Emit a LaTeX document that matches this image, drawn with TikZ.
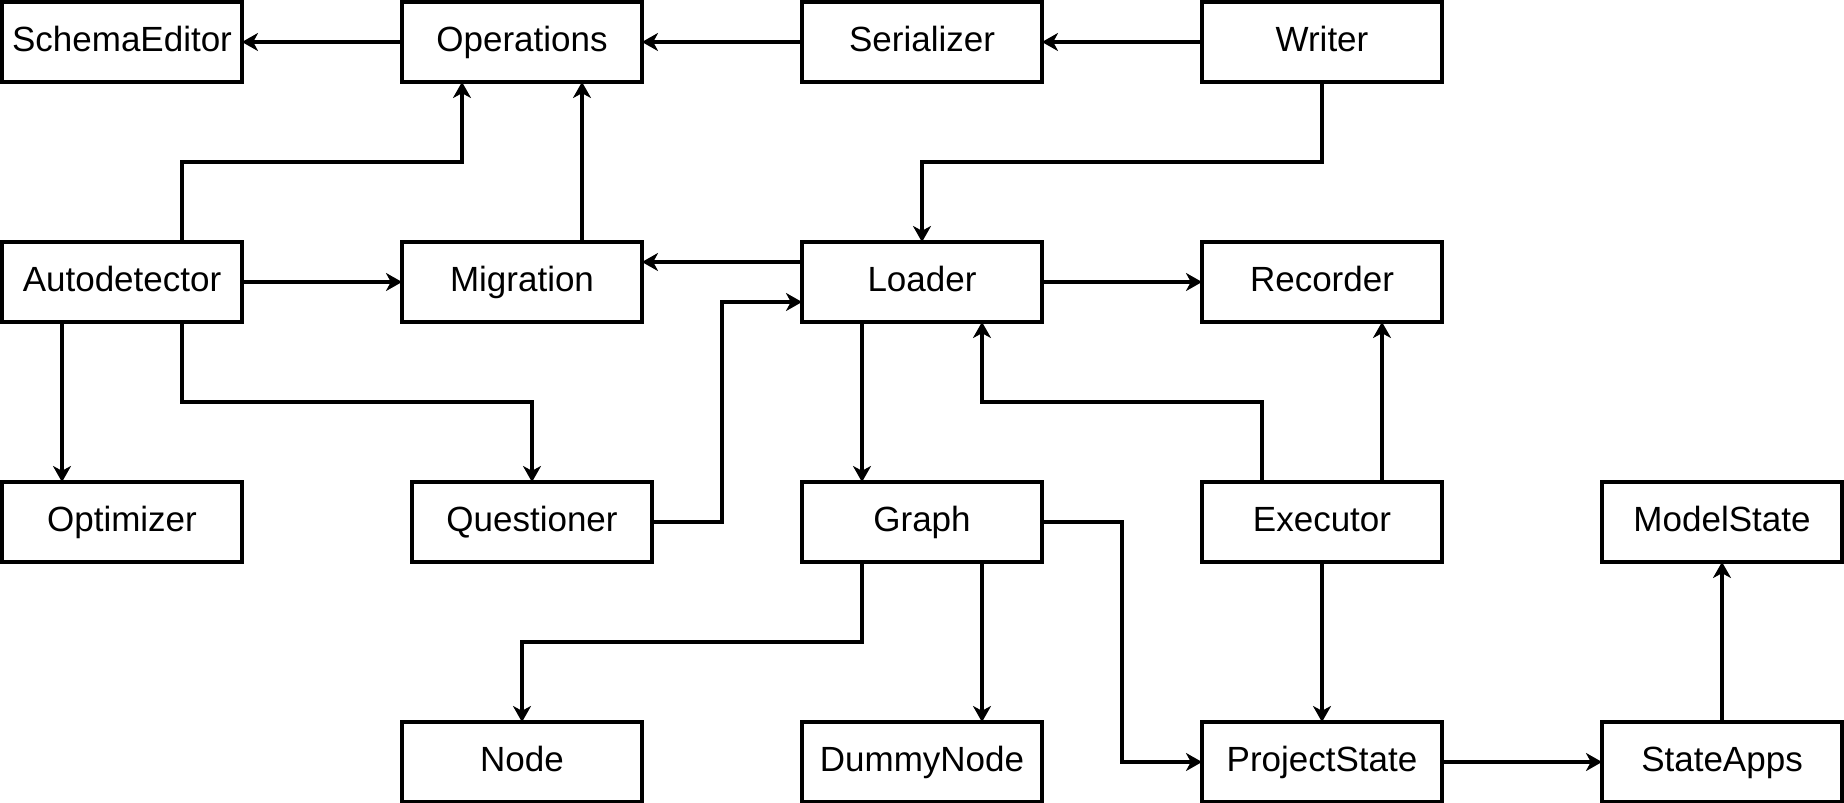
\documentclass[tikz,border=0pt]{standalone}
\usepackage{fontspec}
\setmainfont{Liberation Sans}
\usetikzlibrary{arrows.meta}
\tikzset{
  box/.style={draw=black, line width=1.8pt, minimum width=120pt, minimum height=40pt, inner sep=0pt, outer sep=0pt, text height=12.5pt, text depth=3.5pt, font=\fontsize{17.5}{20}\selectfont, fill=white},
  arr/.style={draw=black, line width=1.6pt, -{Stealth[length=8pt,width=9pt,inset=2.4pt]}}
}
\begin{document}
\begin{tikzpicture}[x=1pt,y=-1pt]
\useasboundingbox (0,0) rectangle (922,401.5);
% row 1
\node[box] (schema) at (61,21) {SchemaEditor};
\node[box] (ops) at (261,21) {Operations};
\node[box] (ser) at (461,21) {Serializer};
\node[box] (writer) at (661,21) {Writer};
% row 2
\node[box] (auto) at (61,141) {Autodetector};
\node[box] (mig) at (261,141) {Migration};
\node[box] (loader) at (461,141) {Loader};
\node[box] (rec) at (661,141) {Recorder};
% row 3
\node[box] (opt) at (61,261) {Optimizer};
\node[box] (quest) at (266,261) {Questioner};
\node[box] (graph) at (461,261) {Graph};
\node[box] (exec) at (661,261) {Executor};
\node[box] (model) at (861,261) {ModelState};
% row 4
\node[box] (nd) at (261,381) {Node};
\node[box] (dummy) at (461,381) {DummyNode};
\node[box] (proj) at (661,381) {ProjectState};
\node[box] (apps) at (861,381) {StateApps};
% connectors
\draw[arr] (ops.west) -- (schema.east);
\draw[arr] (ser.west) -- (ops.east);
\draw[arr] (writer.west) -- (ser.east);
\draw[arr] ([xshift=30pt]auto.north) -- ++(0,-40) -| ([xshift=-30pt]ops.south);
\draw[arr] ([xshift=30pt]mig.north) -- ([xshift=30pt]ops.south);
\draw[arr] (writer.south) -- ++(0,40) -| (loader.north);
\draw[arr] ([yshift=10pt]loader.west) -- ([yshift=10pt]mig.east);
\draw[arr] (auto.east) -- (mig.west);
\draw[arr] (loader.east) -- (rec.west);
\draw[arr] (quest.east) -- ++(35,0) |- ([yshift=-10pt]loader.west);
\draw[arr] ([xshift=-30pt]auto.south) -- ([xshift=-30pt]opt.north);
\draw[arr] ([xshift=30pt]auto.south) -- ++(0,40) -| (quest.north);
\draw[arr] ([xshift=-30pt]loader.south) -- ([xshift=-30pt]graph.north);
\draw[arr] ([xshift=-30pt]exec.north) -- ++(0,-40) -| ([xshift=30pt]loader.south);
\draw[arr] ([xshift=30pt]exec.north) -- ([xshift=30pt]rec.south);
\draw[arr] ([xshift=-30pt]graph.south) -- ++(0,40) -| (nd.north);
\draw[arr] ([xshift=30pt]graph.south) -- ([xshift=30pt]dummy.north);
\draw[arr] (graph.east) -- ++(40,0) |- (proj.west);
\draw[arr] (exec.south) -- (proj.north);
\draw[arr] (proj.east) -- (apps.west);
\draw[arr] (apps.north) -- (model.south);
\end{tikzpicture}
\end{document}
